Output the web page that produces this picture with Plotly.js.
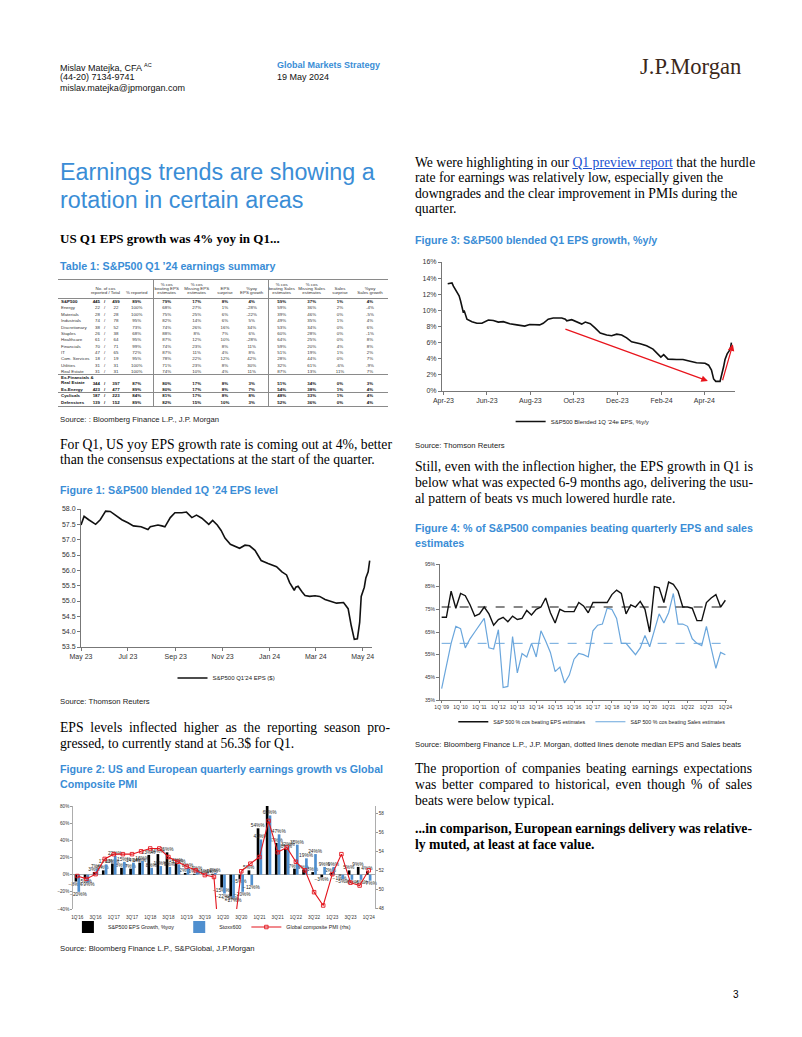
<!DOCTYPE html>
<html><head><meta charset="utf-8">
<script src="https://cdn.plot.ly/plotly-3.0.1.min.js"></script>
<style>
body{margin:0;background:#fff;}
#page{position:relative;width:802px;height:1037px;overflow:hidden;background:#fff;}
.a{position:absolute;white-space:nowrap;}
.sans{font-family:"Liberation Sans",Arial,sans-serif;}
.serif{font-family:"Liberation Serif","Times New Roman",serif;}
.hdr{font-size:9px;line-height:11.5px;color:#111;}
.ttl{font-size:10.7px;font-weight:bold;color:#3a8dd6;line-height:15px;}
.src{font-size:7.7px;color:#222;line-height:10px;}
.body{font-size:13.7px;line-height:15.5px;color:#000;}
.jl{text-align:justify;text-align-last:justify;white-space:normal;word-spacing:-2.5px;height:16px;overflow:visible;}
.chart{position:absolute;}
.tc{position:absolute;font-family:"Liberation Sans",Arial,sans-serif;font-size:4.4px;line-height:5px;color:#333;white-space:nowrap;}
.hl{position:absolute;background:#8a8a8a;}
</style></head>
<body><div id="page">

<div class="a sans hdr" style="left:60px;top:60px;">Mislav Matejka, CFA <sup style="font-size:5.5px;">AC</sup></div>
<div class="a sans hdr" style="left:60px;top:72px;">(44-20) 7134-9741</div>
<div class="a sans hdr" style="left:60px;top:83px;">mislav.matejka@jpmorgan.com</div>
<div class="a sans hdr" style="left:277px;top:60px;color:#3a8dd6;font-weight:bold;">Global Markets Strategy</div>
<div class="a sans hdr" style="left:277px;top:72px;">19 May 2024</div>
<div class="a serif" style="left:640px;top:54px;font-size:22.6px;line-height:26px;color:#3b281a;">J.P.Morgan</div>

<div class="a sans" style="left:60px;top:158px;font-size:23.3px;line-height:28px;color:#3a8dd6;">Earnings trends are showing a</div>
<div class="a sans" style="left:60px;top:186px;font-size:23.3px;line-height:28px;color:#3a8dd6;">rotation in certain areas</div>
<div class="a serif" style="left:60px;top:231px;font-size:13px;line-height:15px;font-weight:bold;">US Q1 EPS growth was 4% yoy in Q1...</div>

<div class="a sans ttl" style="left:60px;top:258.5px;">Table 1: S&amp;P500 Q1 ’24 earnings summary</div>
<div id="tbl"></div>
<div class="a sans src" style="left:60px;top:415px;">Source: : Bloomberg Finance L.P., J.P. Morgan</div>

<div class="a serif body jl" style="left:60px;top:437px;width:332px;">For Q1, US yoy EPS growth rate is coming out at 4%, better</div>
<div class="a serif body" style="left:60px;top:452px;">than the consensus expectations at the start of the quarter.</div>

<div class="a sans ttl" style="left:60px;top:482.5px;">Figure 1: S&amp;P500 blended 1Q ’24 EPS level</div>
<div id="fig1" class="chart" style="left:40px;top:500px;"></div>
<div class="a sans src" style="left:60px;top:697px;">Source: Thomson Reuters</div>

<div class="a serif body jl" style="left:60px;top:720px;width:330px;">EPS levels inflected higher as the reporting season pro-</div>
<div class="a serif body" style="left:60px;top:736px;">gressed, to currently stand at 56.3$ for Q1.</div>

<div class="a sans ttl" style="left:60px;top:761.5px;">Figure 2: US and European quarterly earnings growth vs Global</div>
<div class="a sans ttl" style="left:60px;top:776.5px;">Composite PMI</div>
<div id="fig2" class="chart" style="left:45px;top:795px;"></div>
<div class="a sans src" style="left:60px;top:944px;">Source: Bloomberg Finance L.P., S&amp;PGlobal, J.P.Morgan</div>

<div class="a serif body" style="left:415px;top:155px;">We were highlighting in our <span style="color:#2050d0;text-decoration:underline;">Q1 preview report</span> that the hurdle</div>
<div class="a serif body" style="left:415px;top:170px;">rate for earnings was relatively low, especially given the</div>
<div class="a serif body" style="left:415px;top:186px;">downgrades and the clear improvement in PMIs during the</div>
<div class="a serif body" style="left:415px;top:201px;">quarter.</div>

<div class="a sans ttl" style="left:415px;top:232.5px;">Figure 3: S&amp;P500 blended Q1 EPS growth, %y/y</div>
<div id="fig3" class="chart" style="left:400px;top:250px;"></div>
<div class="a sans src" style="left:415px;top:441px;">Source: Thomson Reuters</div>

<div class="a serif body jl" style="left:415px;top:459px;width:338px;">Still, even with the inflection higher, the EPS growth in Q1 is</div>
<div class="a serif body jl" style="left:415px;top:475px;width:338px;">below what was expected 6-9 months ago, delivering the usu-</div>
<div class="a serif body" style="left:415px;top:491px;">al pattern of beats vs much lowered hurdle rate.</div>

<div class="a sans ttl" style="left:415px;top:520.5px;">Figure 4: % of S&amp;P500 companies beating quarterly EPS and sales</div>
<div class="a sans ttl" style="left:415px;top:535.5px;">estimates</div>
<div id="fig4" class="chart" style="left:400px;top:555px;"></div>
<div class="a sans src" style="left:415px;top:740px;">Source: Bloomberg Finance L.P., J.P. Morgan, dotted lines denote median EPS and Sales beats</div>

<div class="a serif body jl" style="left:415px;top:761px;width:337px;">The proportion of companies beating earnings expectations</div>
<div class="a serif body jl" style="left:415px;top:777px;width:337px;">was better compared to historical, even though % of sales</div>
<div class="a serif body" style="left:415px;top:793px;">beats were below typical.</div>

<div class="a serif body jl" style="left:415px;top:821px;width:337px;font-weight:bold;">...in comparison, European earnings delivery was relative-</div>
<div class="a serif body" style="left:415px;top:837px;font-weight:bold;">ly muted, at least at face value.</div>

<div class="a sans" style="left:733px;top:989px;font-size:10px;line-height:12px;">3</div>
</div>

<script>
// ---------------- Table 1 data ----------------
const tblRows = ["S&P500","Energy","Materials","Industrials","Discretionary","Staples","Healthcare","Financials","IT","Com. Services","Utilities","Real Estate","Ex-Financials & Real Estate","Ex-Energy","Cyclicals","Defensives"];
const tblReported = [445,22,28,74,38,26,61,70,47,18,31,31,344,423,187,139];
const tblTotal = [499,22,28,78,52,38,64,71,65,19,31,31,397,477,223,152];
const tblPctReported = [89,100,100,95,73,68,95,99,72,95,100,100,87,89,84,89];
const tblBeatEPS = [79,68,75,82,74,88,87,74,87,78,71,74,80,80,81,82];
const tblMissEPS = [17,27,25,14,26,8,12,23,11,22,23,10,17,17,17,15];
const tblEPSSurprise = [8,1,6,6,16,7,10,8,4,12,8,4,8,8,8,10];
const tblEPSGrowth = [4,-28,-22,5,34,6,-28,11,8,42,30,11,3,7,8,3];
const tblBeatSales = [59,59,39,49,53,60,64,59,51,28,32,87,51,54,48,52];
const tblMissSales = [37,36,46,35,34,28,25,20,19,44,61,13,34,38,33,36];
const tblSalesSurprise = [1,2,0,1,0,0,0,4,1,0,-6,11,0,1,1,0];
const tblSalesGrowth = [4,-4,-5,4,6,-1,8,8,2,7,-9,7,3,4,4,4];
const tblHeaders = [["No. of cos","reported / Total"],["% reported"],["% cos","beating EPS","estimates"],["% cos","Missing EPS","estimates"],["EPS","surprise"],["%yoy","EPS growth"],["% cos","beating Sales","estimates"],["% cos","Missing Sales","estimates"],["Sales","surprise"],["%yoy","Sales growth"]];
const tblBoldRows = ["S&P500","Ex-Financials & Real Estate","Ex-Energy","Cyclicals","Defensives"];

// ---------------- Figure 1 data ----------------
const fig1Dates = ["2023-05-01","2023-05-05","2023-05-11","2023-05-15","2023-05-20","2023-05-26","2023-06-02","2023-06-08","2023-06-14","2023-06-23","2023-07-01","2023-07-08","2023-07-18","2023-07-23","2023-07-27","2023-07-30","2023-08-05","2023-08-09","2023-08-14","2023-08-18","2023-08-25","2023-08-31","2023-09-09","2023-09-15","2023-09-22","2023-09-28","2023-10-05","2023-10-09","2023-10-14","2023-10-19","2023-10-23","2023-10-25","2023-10-30","2023-11-04","2023-11-11","2023-11-17","2023-11-23","2023-11-30","2023-12-06","2023-12-13","2023-12-21","2023-12-30","2024-01-10","2024-01-17","2024-01-23","2024-01-27","2024-02-02","2024-02-04","2024-02-07","2024-02-12","2024-02-16","2024-02-22","2024-02-29","2024-03-06","2024-03-13","2024-03-19","2024-03-28","2024-04-06","2024-04-12","2024-04-16","2024-04-20","2024-04-24","2024-04-27","2024-04-29","2024-05-03","2024-05-05","2024-05-08","2024-05-10"];
const fig1EPS = [57.48,57.76,57.65,57.58,57.50,57.65,57.93,57.92,57.82,57.65,57.55,57.45,57.42,57.38,57.33,57.42,57.45,57.48,57.45,57.42,57.72,57.88,57.88,57.90,57.72,57.80,57.70,57.60,57.50,57.63,57.55,57.48,57.30,57.05,56.85,56.78,56.72,56.82,56.80,56.65,56.32,56.22,56.12,55.95,55.85,55.60,55.35,55.45,55.48,55.30,55.18,55.15,55.17,55.15,55.05,55.00,54.93,54.95,54.75,54.20,53.75,53.77,54.30,55.15,55.45,55.75,55.95,56.32];
const fig1TickVals = ["2023-05-01","2023-07-01","2023-09-01","2023-11-01","2024-01-01","2024-03-01","2024-05-01"];
const fig1TickText = ["May 23","Jul 23","Sep 23","Nov 23","Jan 24","Mar 24","May 24"];

// ---------------- Figure 2 data ----------------
const fig2Quarters = ["1Q'16","2Q'16","3Q'16","4Q'16","1Q'17","2Q'17","3Q'17","4Q'17","1Q'18","2Q'18","3Q'18","4Q'18","1Q'19","2Q'19","3Q'19","4Q'19","1Q'20","2Q'20","3Q'20","4Q'20","1Q'21","2Q'21","3Q'21","4Q'21","1Q'22","2Q'22","3Q'22","4Q'22","1Q'23","2Q'23","3Q'23","4Q'23","1Q'24"];
const fig2SPX = [-8,-5,3,5,13,8,7,14,23,24,26,14,2,1,0,1,-15,-25,-5,5,54,81,37,30,7,6,3,-3,2,-1,5,9,4];
const fig2Stoxx = [-20,-9,7,12,22,15,14,16,8,10,9,12,8,4,1,2,-22,-27,-20,-12,41,69,47,32,35,19,24,9,9,-5,-6,-6,-7];
const fig2PMI = [51.4,51.1,51.6,53.2,53.7,53.7,53.7,54.0,54.3,54.3,53.4,52.9,52.4,52.0,51.5,51.3,39.4,44.0,51.9,52.7,53.4,57.2,53.9,54.4,52.9,52.0,49.7,48.3,51.6,53.7,50.7,50.4,52.0];
const fig2TickLabels = ["1Q'16","3Q'16","1Q'17","3Q'17","1Q'18","3Q'18","1Q'19","3Q'19","1Q'20","3Q'20","1Q'21","3Q'21","1Q'22","3Q'22","1Q'23","3Q'23","1Q'24"];
const fig2PMITicks = [48,50,52,54,56,58];

// ---------------- Figure 3 data ----------------
const fig3Dates = ["2023-04-07","2023-04-13","2023-04-15","2023-04-19","2023-04-23","2023-04-25","2023-04-27","2023-04-29","2023-04-30","2023-05-02","2023-05-04","2023-05-11","2023-05-18","2023-05-25","2023-06-03","2023-06-10","2023-06-17","2023-06-24","2023-07-03","2023-07-13","2023-07-24","2023-07-31","2023-08-07","2023-08-14","2023-08-19","2023-08-26","2023-09-02","2023-09-14","2023-09-19","2023-09-21","2023-09-28","2023-10-05","2023-10-12","2023-10-17","2023-10-24","2023-10-31","2023-11-07","2023-11-16","2023-11-23","2023-11-30","2023-12-07","2023-12-14","2023-12-21","2024-01-02","2024-01-11","2024-01-20","2024-01-27","2024-01-31","2024-02-04","2024-02-10","2024-02-22","2024-03-02","2024-03-12","2024-03-21","2024-04-02","2024-04-07","2024-04-11","2024-04-14","2024-04-17","2024-04-23","2024-04-28","2024-04-30","2024-05-03","2024-05-06","2024-05-08","2024-05-09"];
const fig3Growth = [13.3,13.4,13.0,12.4,11.8,11.2,10.4,9.7,10.0,9.5,8.9,8.6,8.4,8.4,8.8,8.75,8.55,8.6,8.35,8.2,8.05,8.25,8.25,8.2,8.4,8.9,9.05,9.05,8.9,8.7,8.85,8.6,8.3,8.55,8.35,7.8,7.2,6.95,6.85,7.05,6.95,6.6,6.1,5.85,5.6,5.2,4.5,4.2,4.5,3.95,3.9,3.9,3.7,3.5,3.45,3.2,2.6,1.5,1.2,1.2,3.0,3.9,4.6,5.0,5.5,6.0];
const fig3TickVals = ["2023-04-01","2023-06-01","2023-08-01","2023-10-01","2023-12-01","2024-02-01","2024-04-01"];
const fig3TickText = ["Apr-23","Jun-23","Aug-23","Oct-23","Dec-23","Feb-24","Apr-24"];
const fig3ArrowFrom = [["2023-09-17",7.75],["2024-04-26",1.15]];
const fig3ArrowTo = [["2024-04-06",1.24],["2024-05-11",5.8]];

// ---------------- Figure 4 data ----------------
const fig4Quarters = ["1Q09","2Q09","3Q09","4Q09","1Q10","2Q10","3Q10","4Q10","1Q11","2Q11","3Q11","4Q11","1Q12","2Q12","3Q12","4Q12","1Q13","2Q13","3Q13","4Q13","1Q14","2Q14","3Q14","4Q14","1Q15","2Q15","3Q15","4Q15","1Q16","2Q16","3Q16","4Q16","1Q17","2Q17","3Q17","4Q17","1Q18","2Q18","3Q18","4Q18","1Q19","2Q19","3Q19","4Q19","1Q20","2Q20","3Q20","4Q20","1Q21","2Q21","3Q21","4Q21","1Q22","2Q22","3Q22","4Q22","1Q23","2Q23","3Q23","4Q23","1Q24"];
const fig4EPSBeat = [71.5,71.5,83,75.5,82,81,77,72,73,76,73,68,70.5,71.5,69.5,72,70.5,71,74.5,72.5,75,76,80,73.5,69,75,74,74,74,78,76.5,73.5,78,78,78,78,81.5,83.5,82,73,77,76,78.5,75,65,85,84.5,78,87,86,83,76,76,75.5,70,70,78,80,81.5,76,79];
const fig4SalesBeat = [40,50,60,67.5,66.5,58,62,65,68,71,58,57.5,66,40.5,41,63,47,55.5,54,60,54,65.5,61,56,47.5,49.5,42.5,46,53,55.5,55,54,65.5,68,68.5,75.5,75,71,60,60,57.5,55,58,63.5,58.5,66,73,69,73.5,82,68.5,68.5,67.5,62,60,59,67.5,58,49,56,55];
const fig4EPSMedian = 76;
const fig4SalesMedian = 60;
const fig4TickVals = ["1Q09","1Q10","1Q11","1Q12","1Q13","1Q14","1Q15","1Q16","1Q17","1Q18","1Q19","1Q20","1Q21","1Q22","1Q23","1Q24"];
const fig4TickText = ["1Q '09","1Q '10","1Q '11","1Q '12","1Q '13","1Q '14","1Q '15","1Q '16","1Q '17","1Q '18","1Q '19","1Q '20","1Q'21","1Q'22","1Q'23","1Q'24"];

// ---------------- build table ----------------
(function(){
  const page = document.getElementById('page');
  function txt(x, y, s, align, bold){
    const d = document.createElement('div');
    d.className = 'tc';
    d.textContent = s;
    d.style.top = (y - 2.5) + 'px';
    if(align === 'left'){ d.style.left = x + 'px'; }
    else if(align === 'right'){ d.style.left = (x - 40) + 'px'; d.style.width = '40px'; d.style.textAlign = 'right'; }
    else { d.style.left = (x - 25) + 'px'; d.style.width = '50px'; d.style.textAlign = 'center'; }
    if(bold){ d.style.fontWeight = 'bold'; d.style.color = '#111'; }
    page.appendChild(d);
  }
  function hline(y, x0, x1, w){ const d=document.createElement('div'); d.className='hl'; d.style.left=x0+'px'; d.style.width=(x1-x0)+'px'; d.style.top=y+'px'; d.style.height=w+'px'; page.appendChild(d);}
  function vline(x, y0, y1, w){ const d=document.createElement('div'); d.className='hl'; d.style.left=x+'px'; d.style.width=w+'px'; d.style.top=y0+'px'; d.style.height=(y1-y0)+'px'; page.appendChild(d);}
  const rowY = [301.3,307.7,314,320.5,327,333.3,339.7,346,352.3,358.7,365,371.3,383.3,389.3,395.7,402];
  const colX = [136.7,166.7,196.7,225,251.7,281.7,311.7,340,370];
  const hdrX = [105.5,136.7,166.7,196.7,225,251.7,281.7,311.7,340,370];
  tblHeaders.forEach((lines, c) => {
    const n = lines.length;
    lines.forEach((s, k) => txt(hdrX[c], 292.6 - (n-1-k)*4.2, s, 'center', false));
  });
  const cols = [tblPctReported, tblBeatEPS, tblMissEPS, tblEPSSurprise, tblEPSGrowth, tblBeatSales, tblMissSales, tblSalesSurprise, tblSalesGrowth];
  tblRows.forEach((name, r) => {
    const y = rowY[r];
    const b = tblBoldRows.includes(name);
    if(name.indexOf(' & ') > 0){
      const parts = name.split(' & ');
      txt(61, y - 5.8, parts[0] + ' &', 'left', b);
      txt(61, y - 0.8, parts[1], 'left', b);
    } else {
      txt(61, y, name, 'left', b);
    }
    txt(100, y, String(tblReported[r]), 'right', b);
    txt(104.7, y, '/', 'center', b);
    txt(116, y, String(tblTotal[r]), 'center', b);
    cols.forEach((arr, c) => txt(colX[c], y, arr[r] + '%', 'center', b));
  });
  hline(279, 58, 388, 1);
  hline(297.5, 58, 388, 0.7);
  hline(374, 58, 388, 1);
  hline(392, 58, 388, 1);
  hline(405.5, 58, 388, 1);
  vline(152.5, 279, 406, 1);
  vline(268, 279, 406, 1);
})();

const cfg = {staticPlot:true, displayModeBar:false};
const FONT = 'Liberation Sans, Arial, sans-serif';

// ---------------- Figure 1 ----------------
Plotly.newPlot('fig1', [{
  x: fig1Dates, y: fig1EPS, type:'scatter', mode:'lines',
  line:{color:'#111', width:1.6}, name:"S&P500 Q1'24 EPS ($)"
}], {
  width:350, height:190, margin:{l:41, r:18, t:9, b:43, autoexpand:false},
  paper_bgcolor:'rgba(0,0,0,0)', plot_bgcolor:'rgba(0,0,0,0)',
  font:{family:FONT, size:7, color:'#333'},
  xaxis:{type:'date', range:['2023-05-01','2024-05-13'], tickmode:'array', tickvals:fig1TickVals, ticktext:fig1TickText,
         showline:true, linecolor:'#777', linewidth:1, ticks:'outside', ticklen:3, tickcolor:'#777', showgrid:false, zeroline:false},
  yaxis:{range:[53.5,58], tick0:53.5, dtick:0.5, tickformat:'.1f', showline:true, linecolor:'#777', linewidth:1,
         ticks:'outside', ticklen:3, tickcolor:'#777', showgrid:false, zeroline:false},
  showlegend:true,
  legend:{orientation:'h', x:0.5, xanchor:'center', y:-0.225, yanchor:'middle', font:{size:6, color:'#222'}, bgcolor:'rgba(0,0,0,0)'}
}, cfg);

// ---------------- Figure 2 ----------------
Plotly.newPlot('fig2', [
  {x: fig2Quarters, y: fig2SPX, type:'bar', name:'S&P500 EPS Growth, %yoy', marker:{color:'#000'},
   texttemplate:'%{y}%', textposition:'outside', textangle:0, constraintext:'none', cliponaxis:false,
   textfont:{size:4.8, color:'#222'}},
  {x: fig2Quarters, y: fig2Stoxx, type:'bar', name:'Stoxx600', marker:{color:'#4f8fcf'},
   texttemplate:'%{y}%', textposition:'outside', textangle:0, constraintext:'none', cliponaxis:false,
   textfont:{size:4.8, color:'#222'}},
  {x: fig2Quarters, y: fig2PMI, type:'scatter', mode:'lines+markers', yaxis:'y2', name:'Global composite PMI (rhs)',
   line:{color:'#e3151d', width:1.1}, marker:{symbol:'square-open', size:3.5, color:'#e3151d', line:{width:0.9, color:'#e3151d'}}}
], {
  width:350, height:145, margin:{l:28.3, r:20, t:10.7, b:31, autoexpand:false},
  paper_bgcolor:'rgba(0,0,0,0)', plot_bgcolor:'rgba(0,0,0,0)',
  font:{family:FONT, size:5, color:'#333'},
  barmode:'group', bargap:0.38, bargroupgap:0.05,
  xaxis:{type:'category', range:[-0.48, 32.69], tickmode:'array', tickvals:fig2TickLabels, ticktext:fig2TickLabels, tickangle:0,
         showline:false, ticks:'', ticklabelstandoff:4, showgrid:false, zeroline:false, tickfont:{size:4.6}},
  yaxis:{range:[-40,80], dtick:20, ticksuffix:'%', showline:true, linecolor:'#999', linewidth:0.8, ticks:'outside', ticklen:2, tickcolor:'#999',
         showgrid:false, zeroline:true, zerolinecolor:'#999', zerolinewidth:0.8, tickfont:{size:4.6}},
  yaxis2:{overlaying:'y', side:'right', range:[47.93,58.77], tickmode:'array', tickvals:fig2PMITicks,
          showline:true, linecolor:'#999', linewidth:0.8, ticks:'outside', ticklen:2, tickcolor:'#999', showgrid:false, zeroline:false, tickfont:{size:4.6}},
  showlegend:true,
  legend:{orientation:'h', x:0.46, xanchor:'center', y:-0.175, yanchor:'middle', font:{size:5.3, color:'#222'}, bgcolor:'rgba(0,0,0,0)', traceorder:'normal'}
}, cfg);

// ---------------- Figure 3 ----------------
const fig3Ann = fig3ArrowFrom.map((f, i) => ({
  x: fig3ArrowTo[i][0], y: fig3ArrowTo[i][1], ax: f[0], ay: f[1], axref:'x', ayref:'y', xref:'x', yref:'y',
  text:'', showarrow:true, arrowhead:2, arrowsize:1.1, arrowwidth:1.2, arrowcolor:'#e8141c'
}));
Plotly.newPlot('fig3', [{
  x: fig3Dates, y: fig3Growth, type:'scatter', mode:'lines', line:{color:'#111', width:1.6},
  name:"S&P500 Blended 1Q '24e EPS, %y/y"
}], {
  width:350, height:185, margin:{l:42, r:15, t:11.7, b:44, autoexpand:false},
  paper_bgcolor:'rgba(0,0,0,0)', plot_bgcolor:'rgba(0,0,0,0)',
  font:{family:FONT, size:7, color:'#333'},
  xaxis:{type:'date', range:['2023-03-30','2024-05-14'], tickmode:'array', tickvals:fig3TickVals, ticktext:fig3TickText,
         showline:true, linecolor:'#777', linewidth:1, ticks:'outside', ticklen:3, tickcolor:'#777', showgrid:false, zeroline:false},
  yaxis:{range:[0,16], dtick:2, ticksuffix:'%', showline:true, linecolor:'#777', linewidth:1, ticks:'outside', ticklen:3, tickcolor:'#777',
         showgrid:false, zeroline:false},
  annotations: fig3Ann,
  showlegend:true,
  legend:{orientation:'h', x:0.48, xanchor:'center', y:-0.237, yanchor:'middle', font:{size:6, color:'#222'}, bgcolor:'rgba(0,0,0,0)'}
}, cfg);

// ---------------- Figure 4 ----------------
const q0 = fig4Quarters[0], qN = fig4Quarters[fig4Quarters.length-1];
Plotly.newPlot('fig4', [
  {x: fig4Quarters, y: fig4EPSBeat, type:'scatter', mode:'lines', name:'S&P 500 % cos beating EPS estimates', line:{color:'#111', width:1.4}},
  {x: fig4Quarters, y: fig4SalesBeat, type:'scatter', mode:'lines', name:'S&P 500 % cos beating Sales estimates', line:{color:'#6aa6dc', width:1.2}},
  {x: [q0, qN], y: [fig4EPSMedian, fig4EPSMedian], type:'scatter', mode:'lines', showlegend:false, line:{color:'#111', width:1.1, dash:'dash'}},
  {x: [q0, qN], y: [fig4SalesMedian, fig4SalesMedian], type:'scatter', mode:'lines', showlegend:false, line:{color:'#6aa6dc', width:1, dash:'dash'}}
], {
  width:350, height:175, margin:{l:40, r:23.3, t:9, b:30, autoexpand:false},
  paper_bgcolor:'rgba(0,0,0,0)', plot_bgcolor:'rgba(0,0,0,0)',
  font:{family:FONT, size:5, color:'#333'},
  xaxis:{type:'category', range:[-0.35, 60.35], tickmode:'array', tickvals:fig4TickVals, ticktext:fig4TickText, tickangle:0,
         showline:true, linecolor:'#777', linewidth:1, ticks:'outside', ticklen:2, tickcolor:'#777', showgrid:false, zeroline:false, tickfont:{size:5}},
  yaxis:{range:[35,95], tick0:35, dtick:10, ticksuffix:'%', showline:true, linecolor:'#777', linewidth:1, ticks:'outside', ticklen:3, tickcolor:'#777',
         showgrid:false, zeroline:false, tickfont:{size:5}},
  showlegend:true,
  legend:{orientation:'h', xref:'container', x:0.548, xanchor:'center', y:-0.16, yanchor:'middle', font:{size:5.3, color:'#222'}, bgcolor:'rgba(0,0,0,0)'}
}, cfg);
</script>
</body></html>
